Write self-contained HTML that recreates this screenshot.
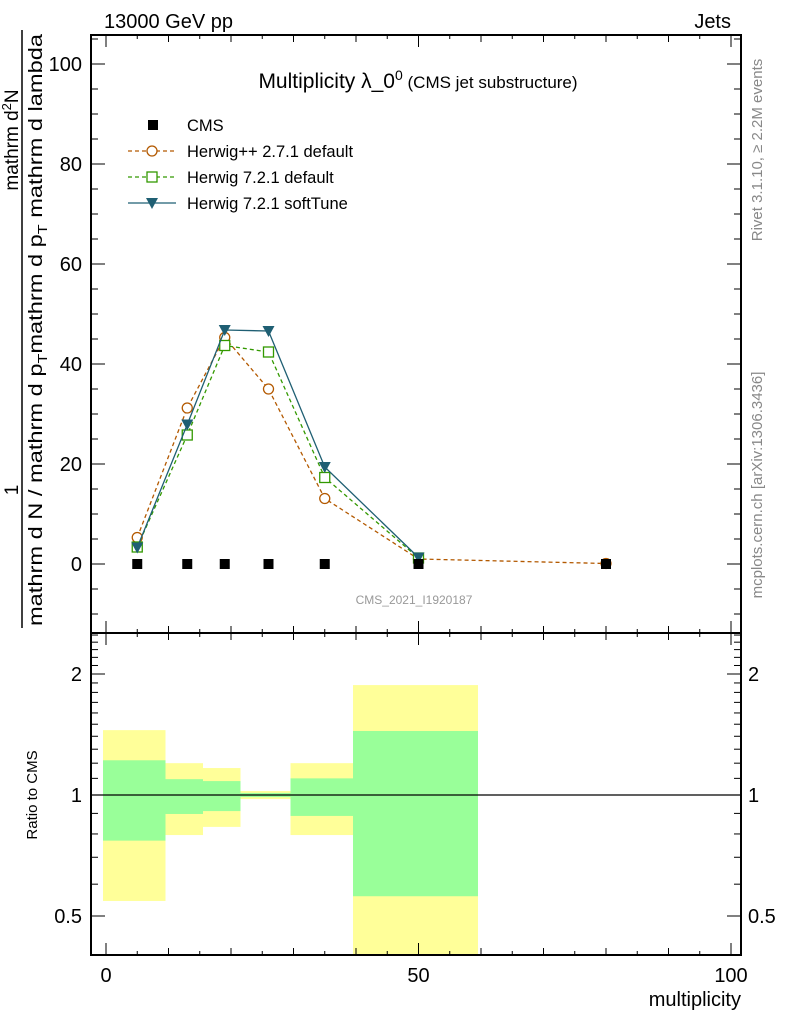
<!DOCTYPE html>
<html><head><meta charset="utf-8"><style>
body{margin:0;background:#fff;}
svg{display:block;font-family:"Liberation Sans",sans-serif;}
</style></head><body>
<svg id="c" width="786" height="1024" viewBox="0 0 786 1024" xmlns="http://www.w3.org/2000/svg">
<text x="104" y="28" font-size="20">13000 GeV pp</text>
<text x="731" y="28" font-size="20" text-anchor="end">Jets</text>
<text x="418" y="88" font-size="21" text-anchor="middle">Multiplicity λ_0<tspan dy="-8" font-size="14">0</tspan><tspan dy="8" font-size="17"> (CMS jet substructure)</tspan></text>
<text x="414" y="604" font-size="12" fill="#999" text-anchor="middle">CMS_2021_I1920187</text>
<text transform="translate(762,150) rotate(-90)" font-size="15" fill="#888" text-anchor="middle">Rivet 3.1.10, ≥ 2.2M events</text>
<text transform="translate(762,485) rotate(-90)" font-size="15" fill="#888" text-anchor="middle">mcplots.cern.ch [arXiv:1306.3436]</text>
<g>
<line x1="22" y1="30" x2="22" y2="628" stroke="#000" stroke-width="1.5"/>
<text transform="translate(18,490) rotate(-90)" font-size="19" text-anchor="middle">1</text>
<text transform="translate(18,140) rotate(-90)" font-size="19" text-anchor="middle">mathrm d<tspan dy="-7" font-size="13">2</tspan><tspan dy="7">N</tspan></text>
<text transform="translate(42,330) rotate(-90)" font-size="19" text-anchor="middle" textLength="592" lengthAdjust="spacingAndGlyphs">mathrm d N / mathrm d p<tspan dy="5" font-size="13">T</tspan><tspan dy="-5">mathrm d p</tspan><tspan dy="5" font-size="13">T</tspan><tspan dy="-5"> mathrm d lambda</tspan></text>
</g>
<text transform="translate(37,795) rotate(-90)" font-size="15" text-anchor="middle">Ratio to CMS</text>
<text x="741" y="1006" font-size="20" text-anchor="end">multiplicity</text>
<g id="g"></g>
</svg>
<script>
const categories=[5,13,19,26,35,50,80];
const binEdges=[0,10,16,22,30,40,60,100];
const cmsValues=[0,0,0,0,0,0,0];
const herwigPPValues=[5.3,31.2,45.3,35.0,13.1,1.0,0.1];
const herwig721Values=[3.4,25.8,43.7,42.4,17.3,1.2];
const softTuneValues=[3.3,27.9,46.8,46.6,19.4,1.3];
const yellowHi=[1.45,1.2,1.167,1.023,1.2,1.877];
const yellowLo=[0.545,0.795,0.833,0.977,0.795,0.3];
const greenHi=[1.22,1.095,1.083,1.012,1.1,1.443];
const greenLo=[0.77,0.897,0.912,0.988,0.887,0.56];
const xTicks=[0,50,100];
const yTicks=[0,20,40,60,80,100];
const rTicks=[0.5,1,2];

const NS="http://www.w3.org/2000/svg";
const g=document.getElementById('g');
const L=91,R=741,T=35,B=633,RB=955;
const X=v=>106+6.25*v;
const Y=v=>564-5*v;
const RY=r=>795-121*Math.log2(r);
function el(t,a,p){const e=document.createElementNS(NS,t);for(const k in a)e.setAttribute(k,a[k]);(p||g).appendChild(e);return e;}

for(let i=0;i<yellowHi.length;i++){
 const x1=X(binEdges[i])-3,x2=X(binEdges[i+1])-3;
 const yt=Math.max(RY(yellowHi[i]),B),yb=Math.min(RY(yellowLo[i]),RB);
 const y=el('rect',{x:x1,y:yt,width:x2-x1,height:yb-yt,fill:'#ffff99'});
 
 
 const gg=el('rect',{x:x1,y:RY(greenHi[i]),width:x2-x1,height:RY(greenLo[i])-RY(greenHi[i]),fill:'#99ff99'});
 
 
}
const one=el('line',{x1:L,x2:R,y1:RY(1),y2:RY(1),stroke:'#000','stroke-width':1.2});



for(const [t,b] of [[T,B],[B,RB]]){
 const f=el('rect',{x:L,y:t,width:R-L,height:b-t,fill:'none',stroke:'#000','stroke-width':2});
 
 
 for(let v=0;v<=100;v+=5){const big=v%50==0;const len=big?12:(v%10==0?7:4);
  el('line',{x1:X(v),x2:X(v),y1:b,y2:b-len,stroke:'#000'});
  el('line',{x1:X(v),x2:X(v),y1:t,y2:t+len,stroke:'#000'});}
}
xTicks.forEach(v=>{const t=el('text',{x:X(v),y:982,'font-size':20,'text-anchor':'middle'});t.textContent=v;
 });
for(let v=-10;v<=105;v+=5){const big=v%20==0;const len=big?14:7;const y=Y(v);if(y<T||y>B)continue;
 el('line',{x1:L,x2:L+len,y1:y,y2:y,stroke:'#000'});el('line',{x1:R,x2:R-len,y1:y,y2:y,stroke:'#000'});}
yTicks.forEach(v=>{const t=el('text',{x:82,y:Y(v)+7,'font-size':20,'text-anchor':'end'});t.textContent=v;
 });
[0.4,0.5,0.6,0.7,0.8,0.9,1,1.1,1.2,1.3,1.4,1.5,1.6,1.7,1.8,1.9,2,2.1,2.2,2.3,2.4,2.5].forEach(r=>{
 const y=RY(r);if(y<B||y>RB)return;const len=rTicks.includes(r)?14:7;
 el('line',{x1:L,x2:L+len,y1:y,y2:y,stroke:'#000'});el('line',{x1:R,x2:R-len,y1:y,y2:y,stroke:'#000'});});
rTicks.forEach(r=>{const t=el('text',{x:82,y:RY(r)+7,'font-size':20,'text-anchor':'end'});t.textContent=r;
 
 const t2=el('text',{x:748,y:RY(r)+7,'font-size':20});t2.textContent=r;
 });

function series(vals,color,dash,marker,name){
 const pts=vals.map((v,i)=>X(categories[i])+','+Y(v)).join(' ');
 const pl=el('polyline',{points:pts,fill:'none',stroke:color,'stroke-width':1.3,'stroke-dasharray':dash});
 
 
 vals.forEach((v,i)=>{const m=marker(X(categories[i]),Y(v));
  
  });
}
const circ=c=>(x,y)=>el('circle',{cx:x,cy:y,r:5,fill:'#fff',stroke:c,'stroke-width':1.3});
const sq=c=>(x,y)=>el('rect',{x:x-5,y:y-5,width:10,height:10,fill:'#fff',stroke:c,'stroke-width':1.3});
const tri=c=>(x,y)=>el('polygon',{points:`${x-6},${y-5} ${x+6},${y-5} ${x},${y+6}`,fill:c});
const blk=(x,y)=>el('rect',{x:x-5,y:y-5,width:10,height:10,fill:'#000'});
series(herwigPPValues,'#b35900','4,3',circ('#b35900'),'herwigpp-271');
series(herwig721Values,'#339900','4,3',sq('#339900'),'herwig-721-default');
series(softTuneValues,'#1f5f73','',tri('#1f5f73'),'herwig-721-softtune');
cmsValues.forEach((v,i)=>{const m=blk(X(categories[i]),Y(v));
 });

const leg=[['CMS',null],['Herwig++ 2.7.1 default','#b35900'],['Herwig 7.2.1 default','#339900'],['Herwig 7.2.1 softTune','#1f5f73']];
leg.forEach((l,i)=>{const y=125+26*i;
 const gr=el('g',{});
 if(i==0){el('rect',{x:148,y:y-5,width:10,height:10,fill:'#000'},gr);}
 else{el('line',{x1:128,x2:176,y1:y,y2:y,stroke:l[1],'stroke-width':1.3,'stroke-dasharray':i==3?'':'4,3'},gr);
  if(i==1)el('circle',{cx:152,cy:y,r:5,fill:'#fff',stroke:l[1],'stroke-width':1.3},gr);
  if(i==2)el('rect',{x:147,y:y-5,width:10,height:10,fill:'#fff',stroke:l[1],'stroke-width':1.3},gr);
  if(i==3)el('polygon',{points:`146,${y-5} 158,${y-5} 152,${y+6}`,fill:l[1]},gr);}
 const t=el('text',{x:187,y:y+6,'font-size':16.5},gr);t.textContent=l[0];});
</script>
</body></html>
